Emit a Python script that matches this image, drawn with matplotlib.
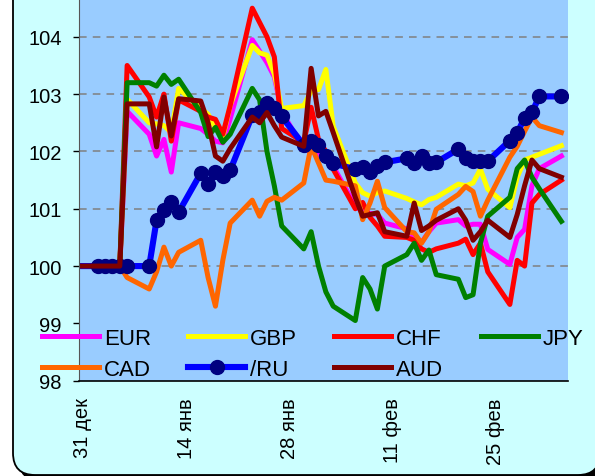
import matplotlib
matplotlib.use("Agg")
import matplotlib.pyplot as plt
from matplotlib.patches import FancyBboxPatch
from matplotlib.transforms import IdentityTransform

plt.rcParams['font.family'] = ['Liberation Sans', 'DejaVu Sans']

# trading days counted from 31 Dec
days = [-1, 2, 3, 4, 5, 6, 9, 10, 11, 12, 13, 16, 17, 18, 19, 20,
        23, 24, 25, 26, 27, 30, 31, 32, 33, 34, 37, 38, 39, 40, 41,
        44, 45, 46, 47, 48, 51, 52, 53, 54, 55, 58, 59, 60, 61, 62, 65]

eur = [100, 100, 100, 100, 100, 102.70, 102.30, 101.92, 102.21, 101.64, 102.50,
       102.40, 102.30, 102.18, 102.15, 102.57, 103.95, 103.75, 103.55, 103.30, 102.70,
       102.04, 102.00, 101.95, 101.85, 101.74, 101.05, 100.95, 100.92, 100.90, 100.75,
       100.65, 100.52, 100.41, 100.60, 100.75, 100.81, 100.70, 100.73, 100.73, 100.29,
       100.03, 100.50, 100.64, 101.40, 101.70, 101.92]
gbp = [100, 100, 100, 100, 100, 102.91, 102.50, 102.48, 102.45, 102.33, 103.10,
       102.75, 102.65, 102.40, 102.26, 102.80, 103.85, 103.72, 103.68, 103.35, 102.75,
       102.80, 103.05, 103.08, 103.43, 102.44, 101.45, 101.28, 101.22, 101.28, 101.31,
       101.18, 101.12, 101.07, 101.16, 101.20, 101.43, 101.40, 101.45, 101.69, 101.34,
       101.02, 101.55, 101.85, 101.90, 101.95, 102.10]
chf = [100, 100, 100, 100, 100, 103.50, 102.95, 102.60, 103.00, 102.18, 102.90,
       102.70, 102.60, 102.56, 102.30, 102.80, 104.50, 104.25, 104.00, 103.65, 102.40,
       102.16, 102.77, 102.21, 102.00, 101.69, 101.00, 101.11, 100.85, 100.70, 100.52,
       100.50, 100.45, 100.30, 100.24, 100.30, 100.40, 100.47, 100.20, 100.40, 99.90,
       99.33, 100.10, 100.00, 101.10, 101.25, 101.50]
jpy = [100, 100, 100, 100, 100, 103.20, 103.20, 103.14, 103.33, 103.17, 103.26,
       102.68, 102.26, 102.42, 102.16, 102.30, 103.10, 102.90, 102.00, 101.40, 100.70,
       100.30, 100.60, 100.00, 99.55, 99.30, 99.05, 99.80, 99.60, 99.25, 100.00,
       100.20, 100.40, 100.10, 100.28, 99.85, 99.77, 99.45, 99.50, 100.40, 100.87,
       101.20, 101.70, 101.85, 101.55, 101.35, 100.78]
cad = [100, 100, 100, 100, 100, 99.80, 99.60, 99.90, 100.33, 100.00, 100.24,
       100.45, 99.80, 99.30, 100.10, 100.75, 101.15, 100.87, 101.13, 101.20, 101.15,
       101.45, 102.10, 101.80, 101.50, 101.48, 101.40, 100.81, 101.10, 101.48, 101.02,
       100.60, 100.58, 100.40, 100.60, 100.99, 101.25, 101.39, 101.30, 100.87, 101.15,
       101.90, 102.09, 102.35, 102.60, 102.45, 102.33]
ru = [100, 100, 100, 100, 100, 100, 100, 100.80, 100.97, 101.11, 100.94,
      101.62, 101.44, 101.65, 101.57, 101.67, 102.63, 102.68, 102.84, 102.75, 102.61,
      102.11, 102.18, 102.11, 101.92, 101.79, 101.69, 101.72, 101.65, 101.74, 101.81,
      101.88, 101.79, 101.92, 101.79, 101.81, 102.04, 101.88, 101.83, 101.83, 101.83,
      102.19, 102.32, 102.59, 102.68, 102.96, 102.96]
aud = [100, 100, 100, 100, 100, 102.83, 102.83, 102.08, 102.95, 102.27, 102.92,
       102.88, 102.50, 101.92, 101.83, 102.05, 102.60, 102.50, 102.68, 102.45, 102.25,
       102.09, 103.45, 102.62, 102.70, 102.33, 101.20, 100.87, 100.90, 100.93, 100.60,
       100.52, 101.10, 100.62, 100.70, 100.80, 101.00, 100.80, 100.45, 100.60, 100.80,
       100.50, 100.90, 101.40, 101.85, 101.70, 101.55]

tick_days = [0, 14, 28, 42, 56]
tick_labels = ['31 дек', '14 янв', '28 янв', '11 фев', '25 фев']

fig = plt.figure(figsize=(5.95, 4.77), dpi=100, facecolor='white')

# rounded frame with shadow (pixel coords)
shadow = FancyBboxPatch((19, -5), 587, 505, boxstyle='round,pad=0,rounding_size=22',
                        transform=IdentityTransform(), facecolor='black',
                        edgecolor='black', zorder=-2)
frame = FancyBboxPatch((13, 1), 587, 505, boxstyle='round,pad=0,rounding_size=22',
                       transform=IdentityTransform(), facecolor='#CCFFFF',
                       edgecolor='black', linewidth=1.3, zorder=-1)
fig.patches.extend([shadow, frame])

ax = fig.add_axes([79 / 595, 1 - 381.7 / 477, (568 - 79) / 595, 381.7 / 477])
ax.set_facecolor('#99CCFF')

lw = 3.6
l_eur, = ax.plot(days, eur, color='#FF00FF', lw=lw, solid_joinstyle='round', label='EUR')
l_gbp, = ax.plot(days, gbp, color='#FFFF00', lw=lw, solid_joinstyle='round', label='GBP')
l_chf, = ax.plot(days, chf, color='#FF0000', lw=lw, solid_joinstyle='round', label='CHF')
l_jpy, = ax.plot(days, jpy, color='#008000', lw=lw, solid_joinstyle='round', label='JPY')
l_cad, = ax.plot(days, cad, color='#FF6600', lw=lw, solid_joinstyle='round', label='CAD')
l_ru, = ax.plot(days, ru, color='#0000FF', lw=4.4, solid_joinstyle='round',
                marker='o', markersize=10, markerfacecolor='#000080',
                markeredgecolor='#000080', markevery=list(range(1, len(days))), label='/RU')
l_aud, = ax.plot(days, aud, color='#800000', lw=lw, solid_joinstyle='round', label='AUD')

ax.set_xlim(-0.54, 65.9)
ax.set_ylim(98, 104.66)
ax.set_yticks([98, 99, 100, 101, 102, 103, 104])
ax.set_xticks(tick_days)
ax.set_xticklabels(tick_labels, rotation=90)
ax.tick_params(axis='y', direction='out', length=4.5, width=1, pad=8, labelsize=14.5)
ax.tick_params(axis='x', length=0, pad=12, labelsize=14.5)

ax.yaxis.grid(True, color='#808080', linestyle=(0, (5, 4)), linewidth=1.1)
ax.set_axisbelow(True)
ax.get_ygridlines()[1].set_visible(False)
ax.get_ygridlines()[0].set_visible(False)

for s in ['top', 'right']:
    ax.spines[s].set_visible(False)
ax.spines['left'].set_color('#555555')
ax.spines['bottom'].set_color('black')
ax.spines['bottom'].set_linewidth(1.2)

handles = [l_eur, l_cad, l_gbp, l_ru, l_chf, l_aud, l_jpy]
fig.legend(handles=handles, labels=[h.get_label() for h in handles], ncol=4,
           loc='upper left', bbox_to_anchor=(42 / 595, 1 - 329 / 477),
           frameon=False, fontsize=16, handlelength=2.57, handletextpad=0.22,
           columnspacing=1.67, labelspacing=0.43, borderpad=0, borderaxespad=0)

fig.savefig('out.png', dpi=100, facecolor='white')
